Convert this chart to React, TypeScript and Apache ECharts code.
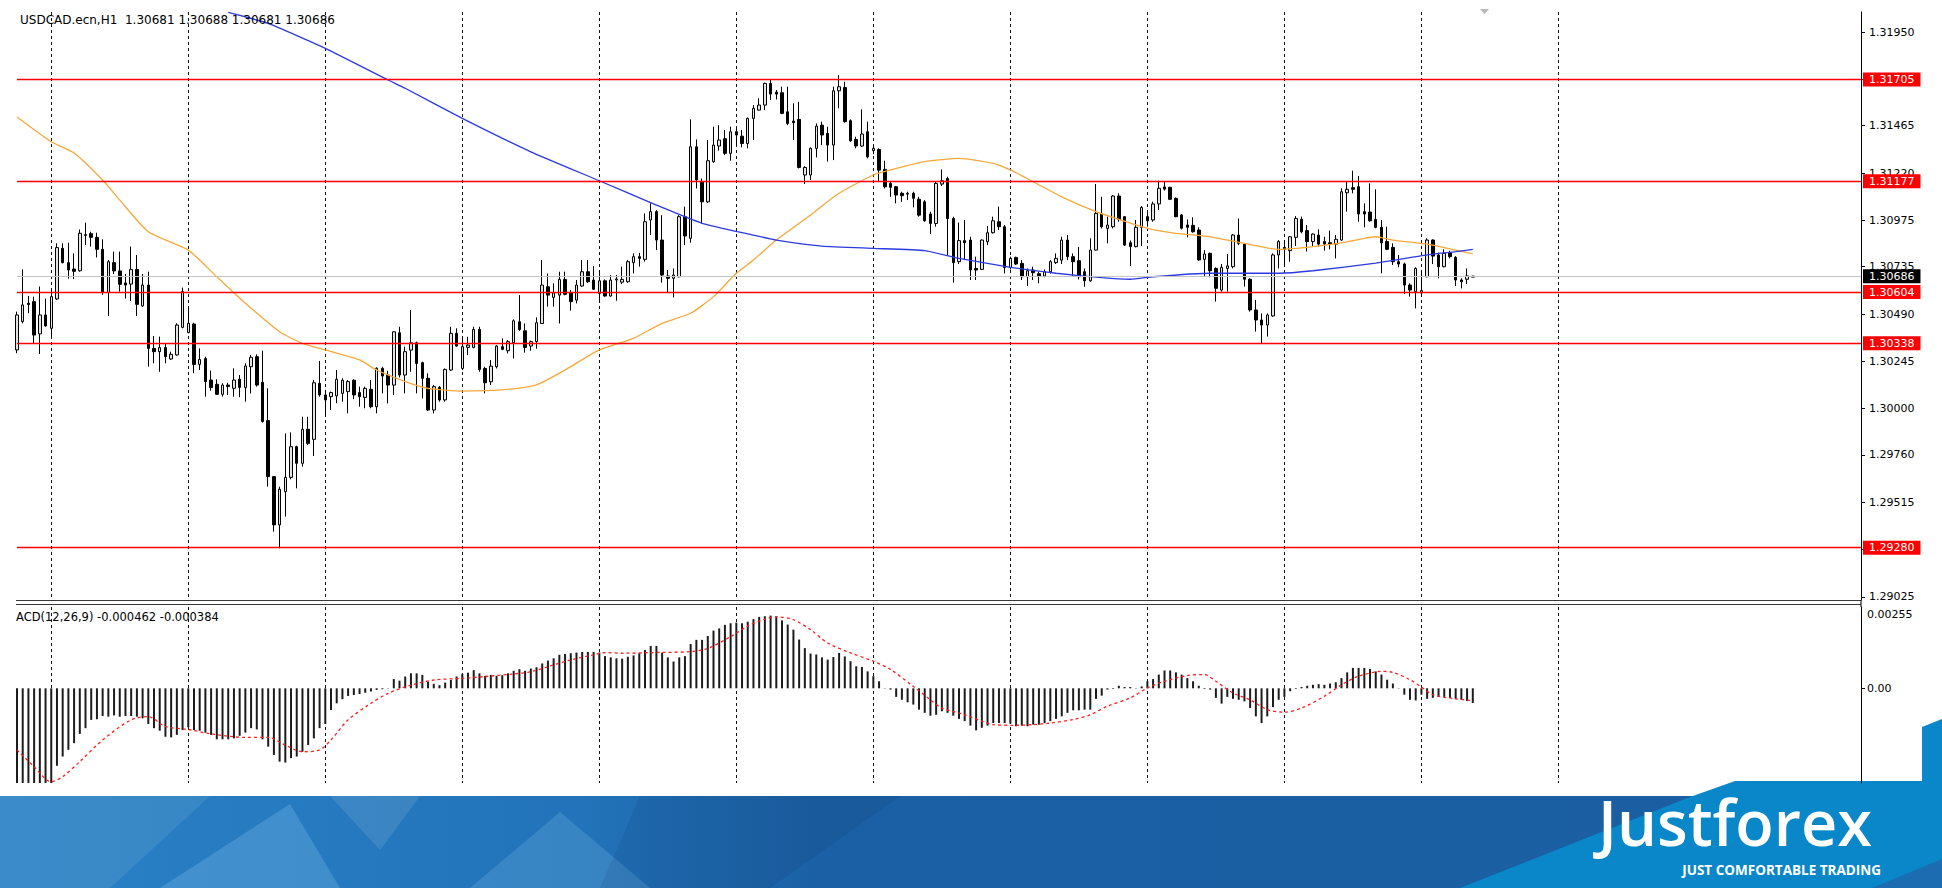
import React, { useEffect, useRef } from "react";
import * as echarts from "echarts";

// ---------- candles (H1 bars, left to right) ----------
const opens = [
  1.30304,1.30451,1.30546,1.30554,1.30387,1.30485,1.30416,1.30568,1.30830,1.30756,
  1.30723,1.30714,1.30901,1.30906,1.30887,1.30825,1.30601,1.30756,1.30713,1.30651,
  1.30645,1.30721,1.30532,1.30640,1.30312,1.30295,1.30316,1.30257,1.30278,1.30421,
  1.30394,1.30438,1.30229,1.30259,1.30148,1.30126,1.30074,1.30122,1.30105,1.30152,
  1.30109,1.30217,1.30269,1.30136,1.29938,1.29648,1.29398,1.29570,1.29644,1.29803,
  1.29717,1.29893,1.29841,1.30131,1.30071,1.30062,1.30066,1.30079,1.30088,1.30147,
  1.30083,1.30058,1.30100,1.30010,1.30208,1.30174,1.30122,1.30393,1.30174,1.30303,
  1.30341,1.30238,1.30157,1.29993,1.30110,1.30045,1.30200,1.30390,1.30208,1.30317,
  1.30317,1.30410,1.30208,1.30139,1.30217,1.30321,1.30300,1.30341,1.30450,1.30403,
  1.30324,1.30347,1.30441,1.30631,1.30576,1.30588,1.30669,1.30600,1.30562,1.30635,
  1.30709,1.30666,1.30597,1.30662,1.30583,1.30666,1.30655,1.30657,1.30756,1.30787,
  1.30773,1.30977,1.31020,1.30873,1.30687,1.30675,1.30683,1.30994,1.30882,1.31356,
  1.31175,1.31071,1.31279,1.31360,1.31398,1.31322,1.31434,1.31411,1.31373,1.31503,
  1.31546,1.31572,1.31684,1.31639,1.31636,1.31537,1.31489,1.31498,1.31210,1.31210,
  1.31348,1.31468,1.31425,1.31365,1.31646,1.31663,1.31491,1.31394,1.31360,1.31434,
  1.31336,1.31342,1.31239,1.31166,1.31149,1.31115,1.31111,1.31115,1.31084,1.31071,
  1.31008,1.30959,1.31163,1.31192,1.30985,1.30761,1.30870,1.30873,1.30726,1.30721,
  1.30864,1.30911,1.30968,1.30942,1.30731,1.30783,1.30752,1.30683,1.30718,1.30699,
  1.30687,1.30709,1.30756,1.30769,1.30873,1.30787,1.30766,1.30709,1.30662,1.30821,
  1.31008,1.30933,1.30942,1.31101,1.30994,1.30859,1.30839,1.30939,1.30994,1.30977,
  1.31060,1.31148,1.31146,1.31089,1.31003,1.30951,1.30949,1.30925,1.30773,1.30804,
  1.30726,1.30614,1.30726,1.30735,1.30899,1.30852,1.30670,1.30511,1.30459,1.30433,
  1.30480,1.30796,1.30835,1.30818,1.30887,1.30980,1.30922,1.30865,1.30899,1.30865,
  1.30859,1.30852,1.30873,1.31118,1.31144,1.31149,1.31020,1.31018,1.30980,1.30939,
  1.30865,1.30835,1.30761,1.30749,1.30640,1.30606,1.30600,1.30683,1.30873,1.30796,
  1.30735,1.30808,1.30783,1.30666,1.30670,1.30681,
];
const highs = [
  1.30502,1.30721,1.30584,1.30580,1.30632,1.30570,1.30615,1.30856,1.30856,1.30859,
  1.30804,1.30928,1.30963,1.30916,1.30911,1.30877,1.30770,1.30813,1.30813,1.30697,
  1.30839,1.30796,1.30697,1.30709,1.30376,1.30373,1.30335,1.30295,1.30442,1.30627,
  1.30532,1.30445,1.30312,1.30269,1.30197,1.30152,1.30131,1.30134,1.30209,1.30174,
  1.30235,1.30278,1.30281,1.30300,1.30105,1.29651,1.29596,1.29872,1.29877,1.29808,
  1.29958,1.29958,1.30148,1.30247,1.30097,1.30088,1.30200,1.30157,1.30148,1.30152,
  1.30114,1.30114,1.30148,1.30214,1.30217,1.30196,1.30398,1.30424,1.30321,1.30511,
  1.30347,1.30243,1.30183,1.30122,1.30117,1.30208,1.30424,1.30416,1.30372,1.30372,
  1.30424,1.30424,1.30217,1.30252,1.30329,1.30364,1.30355,1.30462,1.30588,1.30441,
  1.30352,1.30473,1.30769,1.30700,1.30649,1.30709,1.30709,1.30614,1.30666,1.30769,
  1.30769,1.30738,1.30718,1.30669,1.30692,1.30692,1.30735,1.30769,1.30804,1.30807,
  1.31011,1.31063,1.31028,1.31002,1.30718,1.30726,1.31002,1.31046,1.31498,1.31394,
  1.31192,1.31391,1.31460,1.31468,1.31443,1.31460,1.31451,1.31443,1.31508,1.31572,
  1.31607,1.31688,1.31705,1.31650,1.31667,1.31667,1.31581,1.31589,1.31256,1.31353,
  1.31477,1.31486,1.31460,1.31667,1.31727,1.31693,1.31498,1.31408,1.31550,1.31486,
  1.31360,1.31348,1.31284,1.31175,1.31153,1.31123,1.31123,1.31123,1.31097,1.31080,
  1.31020,1.31175,1.31239,1.31201,1.30994,1.30963,1.30977,1.30890,1.30787,1.30876,
  1.30945,1.30994,1.31046,1.30951,1.30787,1.30787,1.30769,1.30726,1.30735,1.30709,
  1.30721,1.30769,1.30804,1.30890,1.30899,1.30804,1.30838,1.30726,1.30882,1.31163,
  1.31097,1.30994,1.31106,1.31115,1.30997,1.30870,1.30977,1.31049,1.31015,1.31072,
  1.31180,1.31175,1.31149,1.31094,1.31008,1.30980,1.30991,1.30939,1.30821,1.30808,
  1.30732,1.30749,1.30801,1.30904,1.30985,1.30856,1.30675,1.30563,1.30493,1.30493,
  1.30804,1.30873,1.30873,1.30894,1.30997,1.30994,1.30951,1.30908,1.30928,1.30890,
  1.30922,1.30899,1.31141,1.31175,1.31232,1.31205,1.31063,1.31167,1.31136,1.30977,
  1.30942,1.30856,1.30796,1.30756,1.30649,1.30732,1.30714,1.30882,1.30877,1.30808,
  1.30825,1.30818,1.30790,1.30675,1.30726,1.30688,
];
const lows = [
  1.30287,1.30442,1.30494,1.30335,1.30283,1.30425,1.30373,1.30563,1.30752,1.30673,
  1.30671,1.30709,1.30847,1.30839,1.30783,1.30589,1.30480,1.30697,1.30606,1.30570,
  1.30557,1.30480,1.30528,1.30217,1.30235,1.30191,1.30235,1.30252,1.30274,1.30416,
  1.30390,1.30183,1.30200,1.30062,1.30093,1.30071,1.30062,1.30071,1.30062,1.30059,
  1.30036,1.30079,1.30114,1.29928,1.29596,1.29363,1.29277,1.29441,1.29634,1.29587,
  1.29700,1.29812,1.29755,1.30062,1.29958,1.29993,1.30028,1.30036,1.29976,1.30049,
  1.30010,1.30002,1.30002,1.29976,1.30079,1.30027,1.30070,1.30162,1.30079,1.30191,
  1.30079,1.30053,1.29989,1.29975,1.30036,1.30036,1.30196,1.30321,1.30200,1.30277,
  1.30312,1.30191,1.30079,1.30122,1.30208,1.30303,1.30286,1.30260,1.30403,1.30290,
  1.30300,1.30310,1.30438,1.30528,1.30528,1.30441,1.30587,1.30507,1.30545,1.30631,
  1.30652,1.30614,1.30554,1.30580,1.30580,1.30559,1.30645,1.30652,1.30700,1.30735,
  1.30761,1.30899,1.30821,1.30652,1.30600,1.30576,1.30680,1.30847,1.30859,1.31140,
  1.30959,1.31066,1.31273,1.31336,1.31313,1.31284,1.31365,1.31353,1.31348,1.31391,
  1.31543,1.31546,1.31598,1.31601,1.31525,1.31468,1.31391,1.31244,1.31163,1.31184,
  1.31301,1.31365,1.31279,1.31287,1.31555,1.31481,1.31382,1.31348,1.31356,1.31296,
  1.31318,1.31175,1.31140,1.31097,1.31063,1.31071,1.31080,1.31042,1.30994,1.30968,
  1.30904,1.30942,1.31153,1.30795,1.30652,1.30749,1.30769,1.30666,1.30666,1.30718,
  1.30847,1.30907,1.30925,1.30700,1.30721,1.30744,1.30666,1.30635,1.30666,1.30649,
  1.30680,1.30700,1.30749,1.30749,1.30769,1.30683,1.30669,1.30631,1.30657,1.30818,
  1.30933,1.30856,1.30933,1.30968,1.30842,1.30739,1.30835,1.30842,1.30942,1.30968,
  1.31029,1.31129,1.31080,1.30991,1.30928,1.30887,1.30911,1.30766,1.30683,1.30680,
  1.30554,1.30606,1.30606,1.30726,1.30847,1.30632,1.30502,1.30399,1.30338,1.30373,
  1.30476,1.30726,1.30735,1.30761,1.30842,1.30908,1.30813,1.30839,1.30839,1.30818,
  1.30825,1.30778,1.30870,1.31020,1.31115,1.30968,1.30939,1.30968,1.30934,1.30701,
  1.30821,1.30744,1.30732,1.30594,1.30580,1.30519,1.30594,1.30680,1.30749,1.30675,
  1.30732,1.30778,1.30635,1.30623,1.30645,1.30681,
];
const closes = [
  1.30485,1.30537,1.30539,1.30381,1.30485,1.30428,1.30580,1.30834,1.30756,1.30718,
  1.30711,1.30908,1.30897,1.30887,1.30825,1.30601,1.30761,1.30713,1.30644,1.30640,
  1.30721,1.30540,1.30640,1.30312,1.30295,1.30316,1.30269,1.30281,1.30433,1.30606,
  1.30442,1.30229,1.30255,1.30140,1.30109,1.30074,1.30122,1.30114,1.30148,1.30110,
  1.30221,1.30266,1.30122,1.29933,1.29648,1.29398,1.29582,1.29644,1.29803,1.29717,
  1.29893,1.29820,1.30134,1.30071,1.30045,1.30083,1.30152,1.30147,1.30140,1.30071,
  1.30062,1.30105,1.30010,1.30209,1.30169,1.30122,1.30398,1.30174,1.30295,1.30341,
  1.30234,1.30157,1.29993,1.30114,1.30045,1.30203,1.30390,1.30324,1.30321,1.30329,
  1.30410,1.30203,1.30134,1.30220,1.30324,1.30307,1.30347,1.30455,1.30410,1.30317,
  1.30347,1.30445,1.30640,1.30588,1.30600,1.30669,1.30592,1.30554,1.30640,1.30709,
  1.30657,1.30618,1.30662,1.30583,1.30666,1.30671,1.30669,1.30761,1.30787,1.30778,
  1.30968,1.31020,1.30873,1.30692,1.30675,1.30692,1.30994,1.30894,1.31356,1.31184,
  1.31071,1.31284,1.31365,1.31391,1.31322,1.31434,1.31417,1.31373,1.31503,1.31555,
  1.31572,1.31684,1.31629,1.31629,1.31529,1.31477,1.31481,1.31249,1.31249,1.31348,
  1.31463,1.31417,1.31365,1.31646,1.31667,1.31486,1.31387,1.31360,1.31422,1.31304,
  1.31348,1.31235,1.31149,1.31146,1.31106,1.31103,1.31115,1.31089,1.31002,1.30973,
  1.30959,1.31166,1.31180,1.30985,1.30756,1.30870,1.30859,1.30718,1.30718,1.30873,
  1.30911,1.30973,1.30942,1.30731,1.30778,1.30749,1.30683,1.30714,1.30704,1.30687,
  1.30709,1.30761,1.30778,1.30873,1.30787,1.30761,1.30683,1.30662,1.30821,1.31011,
  1.30942,1.30951,1.31101,1.30980,1.30847,1.30839,1.30939,1.31042,1.30973,1.31060,
  1.31141,1.31137,1.31084,1.30994,1.30934,1.30939,1.30916,1.30770,1.30801,1.30714,
  1.30623,1.30732,1.30739,1.30899,1.30856,1.30670,1.30511,1.30459,1.30433,1.30485,
  1.30796,1.30865,1.30825,1.30890,1.30985,1.30916,1.30865,1.30904,1.30852,1.30852,
  1.30852,1.30877,1.31123,1.31136,1.31136,1.31008,1.31008,1.30973,1.30939,1.30859,
  1.30825,1.30761,1.30749,1.30640,1.30614,1.30726,1.30611,1.30873,1.30790,1.30735,
  1.30804,1.30787,1.30666,1.30657,1.30687,1.30686,
];

// ---------- moving averages (bar index, value) ----------
const maFastIdx = [0,6,10,15,18,23,30,35,40,46,50,54,60,63,68,72,78,85,91,96,102,108,113,118,122,126,129,133,139,144,150,154,159,165,171,174,178,183,189,193,198,203,209,215,221,227,233,238,241,247,252,255];
const maFastVal = [1.31510,1.31382,1.31324,1.31184,1.31080,1.30916,1.30821,1.30683,1.30546,1.30398,1.30338,1.30304,1.30252,1.30200,1.30140,1.30105,1.30091,1.30097,1.30123,1.30200,1.30304,1.30364,1.30442,1.30494,1.30580,1.30701,1.30770,1.30873,1.31003,1.31115,1.31210,1.31244,1.31279,1.31296,1.31270,1.31236,1.31175,1.31097,1.31020,1.30980,1.30934,1.30908,1.30890,1.30856,1.30825,1.30839,1.30864,1.30890,1.30873,1.30852,1.30821,1.30801];
const maSlowIdx = [37,44,54,65,68,78,90,102,112,120,129,133,141,150,159,165,174,182,190,195,199,209,221,227,238,247,252,255];
const maSlowVal = [1.32052,1.31995,1.31866,1.31702,1.31659,1.31503,1.31330,1.31180,1.31054,1.30960,1.30899,1.30873,1.30842,1.30830,1.30818,1.30778,1.30732,1.30701,1.30678,1.30670,1.30683,1.30701,1.30701,1.30714,1.30753,1.30796,1.30813,1.30825];

// ---------- MACD(12,26,9) ----------
const macdHist = [
  -0.0033,-0.0034,-0.0034,-0.0033,-0.0032,-0.0031,-0.0030,-0.00243,-0.00214,-0.00193,
  -0.00172,-0.00143,-0.00125,-0.00099,-0.00097,-0.00087,-0.00089,-0.00085,-0.00089,-0.00087,
  -0.00087,-0.00089,-0.00094,-0.00112,-0.00125,-0.00133,-0.00152,-0.00154,-0.00146,-0.00131,
  -0.00122,-0.00131,-0.00133,-0.00139,-0.00146,-0.00160,-0.00160,-0.00160,-0.00157,-0.00149,
  -0.00139,-0.00125,-0.00129,-0.00160,-0.00183,-0.00209,-0.00230,-0.00233,-0.00219,-0.00214,
  -0.00199,-0.00178,-0.00157,-0.00125,-0.00112,-0.00068,-0.00047,-0.00034,-0.00024,-0.00021,
  -0.00018,-0.00014,-0.00010,-0.00005,-0.00003,-0.00001,0.00029,0.00024,0.00037,0.00047,
  0.00047,0.00042,0.00021,0.00014,0.00010,0.00018,0.00026,0.00037,0.00045,0.00049,
  0.00057,0.00047,0.00039,0.00042,0.00039,0.00041,0.00047,0.00055,0.00060,0.00055,
  0.00062,0.00066,0.00078,0.00087,0.00094,0.00105,0.00108,0.00110,0.00112,0.00114,
  0.00114,0.00114,0.00112,0.00101,0.00097,0.00094,0.00093,0.00099,0.00103,0.00110,
  0.00120,0.00133,0.00133,0.00112,0.00097,0.00084,0.00097,0.00101,0.00139,0.00152,
  0.00152,0.00164,0.00181,0.00188,0.00199,0.00204,0.00206,0.00204,0.00209,0.00217,
  0.00224,0.00226,0.00228,0.00226,0.00213,0.00200,0.00184,0.00153,0.00126,0.00109,
  0.00106,0.00097,0.00090,0.00098,0.00111,0.00100,0.00085,0.00069,0.00067,0.00053,
  0.00038,0.00022,0.00001,-0.00004,-0.00027,-0.00036,-0.00044,-0.00051,-0.00067,-0.00077,
  -0.00086,-0.00083,-0.00072,-0.00077,-0.00086,-0.00096,-0.00103,-0.00117,-0.00132,-0.00124,
  -0.00117,-0.00109,-0.00109,-0.00109,-0.00111,-0.00119,-0.00117,-0.00119,-0.00114,-0.00114,
  -0.00109,-0.00103,-0.00096,-0.00088,-0.00077,-0.00069,-0.00069,-0.00067,-0.00067,-0.00033,
  -0.00023,-0.00004,-0.00002,0.00008,0.00004,0.00004,-0.00001,0.00006,0.00022,0.00029,
  0.00043,0.00056,0.00056,0.00050,0.00043,0.00032,0.00022,0.00008,-0.00002,-0.00004,
  -0.00030,-0.00048,-0.00027,-0.00033,-0.00036,-0.00041,-0.00062,-0.00088,-0.00109,-0.00088,
  -0.00059,-0.00036,-0.00027,-0.00009,-0.00002,0.00004,0.00008,0.00011,0.00013,0.00011,
  0.00015,0.00019,0.00032,0.00050,0.00064,0.00064,0.00064,0.00061,0.00053,0.00043,
  0.00027,0.00015,0.00001,-0.00020,-0.00036,-0.00038,-0.00020,-0.00033,-0.00030,-0.00027,
  -0.00027,-0.00030,-0.00033,-0.00036,-0.00040,-0.000462,
];
const signalIdx = [0,3,6,8,11,15,20,23,26,30,34,40,44,47,50,53,55,58,62,65,69,73,78,82,87,90,93,97,101,103,106,111,118,121,125,128,131,133,136,139,142,146,150,153,157,160,162,166,169,171,175,178,181,185,188,191,195,198,201,205,208,210,213,216,219,222,225,229,232,235,239,241,244,246,248,252,255];
const signalVal = [-0.00193,-0.00246,-0.00293,-0.00277,-0.00230,-0.00162,-0.00099,-0.00089,-0.00120,-0.00129,-0.00143,-0.00154,-0.00154,-0.00178,-0.00199,-0.00193,-0.00162,-0.00099,-0.00047,-0.00016,0.00010,0.00026,0.00031,0.00037,0.00045,0.00052,0.00068,0.00089,0.00105,0.00112,0.00110,0.00112,0.00115,0.00125,0.00162,0.00195,0.00217,0.00224,0.00215,0.00184,0.00142,0.00111,0.00085,0.00059,0.00006,-0.00036,-0.00062,-0.00083,-0.00103,-0.00114,-0.00116,-0.00114,-0.00109,-0.00098,-0.00083,-0.00056,-0.00030,0.00001,0.00022,0.00040,0.00043,0.00022,-0.00015,-0.00036,-0.00067,-0.00075,-0.00062,-0.00025,0.00011,0.00038,0.00053,0.00050,0.00027,0.00004,-0.00020,-0.00033,-0.000384];

// ---------- axis ticks, levels, texts ----------
const priceTicks = [1.3195,1.31705,1.31465,1.3122,1.30975,1.30735,1.3049,1.30245,1.3,1.2976,1.29515,1.2927,1.29025];
const levels = [1.31705,1.31177,1.30604,1.30338,1.2928];
const currentPrice = 1.30686;
const macdTicks = [0.00255, 0];
const headerText = "USDCAD.ecn,H1  1.30681 1.30688 1.30681 1.30686";
const macdText = "ACD(12,26,9) -0.000462 -0.000384";
const brandText = "Justforex";
const taglineText = "JUST COMFORTABLE TRADING";

const SLOTS = 324;
const SEP_START = 6;
const SEP_STEP = 24;
const SEP_END = 270;

const FONT = '"DejaVu Sans", Verdana, sans-serif';

function buildOption() {
  const cats = Array.from({ length: SLOTS }, (_, i) => String(i));
  const isSep = (i: number) => i >= SEP_START && i <= SEP_END && (i - SEP_START) % SEP_STEP === 0;
  const xAxisFor = (gridIndex: number) => ({
    type: "category",
    gridIndex,
    data: cats,
    boundaryGap: false,
    axisLine: { show: false },
    axisTick: { show: false },
    axisLabel: { show: false },
    splitLine: {
      show: true,
      interval: (i: number) => isSep(i),
      lineStyle: { color: "#111", width: 1, type: [3, 3] },
    },
  });

  const levelLabel = (v: number, bg: string) => ({
    show: true,
    position: "end",
    distance: 2,
    formatter: v.toFixed(5),
    color: "#fff",
    backgroundColor: bg,
    padding: [2, 6, 1, 6],
    fontSize: 11,
    fontFamily: FONT,
  });

  const candleData = opens.map((o, i) => [o, closes[i], lows[i], highs[i]]);

  return {
    animation: false,
    backgroundColor: "#ffffff",
    grid: [
      { left: 17, right: 81, top: 12, height: 588, outerBoundsMode: "none", containLabel: false },
      { left: 17, right: 81, top: 607, height: 176, outerBoundsMode: "none", containLabel: false },
    ],
    xAxis: [xAxisFor(0), xAxisFor(1)],
    yAxis: [
      {
        type: "value",
        gridIndex: 0,
        position: "right",
        min: 1.29009,
        max: 1.32054,
        axisLine: { show: true, onZero: false, lineStyle: { color: "#000", width: 1 } },
        axisTick: { show: true, length: 4, customValues: priceTicks, lineStyle: { color: "#000" } },
        axisLabel: {
          show: true,
          customValues: priceTicks,
          formatter: (v: number) => v.toFixed(5),
          color: "#000",
          fontFamily: FONT,
          fontSize: 11,
          margin: 8,
        },
        splitLine: { show: false },
      },
      {
        type: "value",
        gridIndex: 1,
        position: "right",
        min: -0.00297,
        max: 0.00255,
        axisLine: { show: true, onZero: false, lineStyle: { color: "#000", width: 1 } },
        axisTick: { show: true, length: 4, customValues: [0], lineStyle: { color: "#000" } },
        axisLabel: {
          show: true,
          customValues: macdTicks,
          formatter: (v: number) => (v > 0.001 ? "{top|" + v.toFixed(5) + "}" : "{mid|" + v.toFixed(2) + "}"),
          rich: {
            top: { padding: [14, 0, 0, 0], fontSize: 11, fontFamily: FONT, color: "#000" },
            mid: { fontSize: 11, fontFamily: FONT, color: "#000" },
          },
          margin: 6,
        },
        splitLine: { show: false },
      },
    ],
    series: [
      {
        type: "candlestick",
        xAxisIndex: 0,
        yAxisIndex: 0,
        data: candleData,
        barWidth: 3,
        silent: true,
        z: 2,
        itemStyle: {
          color: "#e4e4e4",
          color0: "#000000",
          borderColor: "#000000",
          borderColor0: "#000000",
          borderWidth: 1,
        },
      },
      {
        // fast moving average; also carries the horizontal price levels
        type: "line",
        xAxisIndex: 0,
        yAxisIndex: 0,
        data: maFastIdx.map((x, k) => [x, maFastVal[k]]),
        symbol: "none",
        showSymbol: false,
        smooth: 0.2,
        silent: true,
        z: 3,
        lineStyle: { color: "#f6a83a", width: 1.3 },
        markLine: {
          silent: true,
          symbol: ["none", "none"],
          animation: false,
          precision: 5,
          data: [
            {
              yAxis: currentPrice,
              lineStyle: { color: "#c4c4c4", width: 1, type: "solid" },
              label: levelLabel(currentPrice, "#000000"),
            },
            ...levels.map((v) => ({
              yAxis: v,
              lineStyle: { color: "#ff0000", width: 1.4, type: "solid" },
              label: levelLabel(v, "#ff0000"),
            })),
          ],
        },
      },
      {
        type: "line",
        xAxisIndex: 0,
        yAxisIndex: 0,
        data: maSlowIdx.map((x, k) => [x, maSlowVal[k]]),
        symbol: "none",
        showSymbol: false,
        smooth: 0.15,
        silent: true,
        z: 3,
        lineStyle: { color: "#2c3ae0", width: 1.3 },
      },
      {
        type: "bar",
        xAxisIndex: 1,
        yAxisIndex: 1,
        data: macdHist,
        barWidth: 2,
        silent: true,
        itemStyle: { color: "#1c1c1c" },
      },
      {
        type: "line",
        xAxisIndex: 1,
        yAxisIndex: 1,
        data: signalIdx.map((x, k) => [x, signalVal[k]]),
        symbol: "none",
        showSymbol: false,
        smooth: 0.3,
        silent: true,
        z: 3,
        lineStyle: { color: "#ff1e1e", width: 1.3, type: [3, 3] },
      },
    ],
    graphic: [
      // panel separator
      { type: "line", silent: true, shape: { x1: 16, y1: 600.5, x2: 1861, y2: 600.5 }, style: { stroke: "#3a3a3a", lineWidth: 1 } },
      { type: "line", silent: true, shape: { x1: 16, y1: 604.5, x2: 1861, y2: 604.5 }, style: { stroke: "#3a3a3a", lineWidth: 1 } },
      { type: "line", silent: true, shape: { x1: 1861, y1: 600, x2: 1861, y2: 607 }, style: { stroke: "#000", lineWidth: 1 } },
      // chart shift marker
      { type: "polygon", silent: true, shape: { points: [[1480, 9], [1489, 9], [1484.5, 14]] }, style: { fill: "#b8b8b8" } },
      // header texts
      {
        type: "text", silent: true, x: 20, y: 20, z: 10,
        style: { text: headerText, fill: "#000", font: "12px " + FONT, verticalAlign: "middle", textVerticalAlign: "middle" },
      },
      {
        type: "text", silent: true, x: 16, y: 617, z: 10,
        style: { text: macdText, fill: "#000", font: "11.5px " + FONT, verticalAlign: "middle", textVerticalAlign: "middle" },
      },
      // footer banner
      {
        type: "group",
        z: 100,
        silent: true,
        children: [
          {
            type: "rect", shape: { x: 0, y: 796, width: 1942, height: 92 },
            style: {
              fill: new echarts.graphic.LinearGradient(0, 0, 1, 0, [
                { offset: 0, color: "#2b82c6" },
                { offset: 0.3, color: "#2273b9" },
                { offset: 0.42, color: "#1b60a4" },
                { offset: 1, color: "#1b5fa2" },
              ]),
            },
          },
          { type: "polygon", shape: { points: [[0, 796], [210, 796], [110, 888], [0, 888]] }, style: { fill: "rgba(255,255,255,0.08)" } },
          { type: "polygon", shape: { points: [[160, 888], [290, 804], [340, 888]] }, style: { fill: "rgba(160,215,250,0.22)" } },
          { type: "polygon", shape: { points: [[330, 796], [420, 796], [380, 850]] }, style: { fill: "rgba(255,255,255,0.10)" } },
          { type: "polygon", shape: { points: [[470, 888], [560, 812], [650, 888]] }, style: { fill: "rgba(160,215,250,0.18)" } },
          { type: "polygon", shape: { points: [[640, 796], [900, 796], [770, 888], [600, 888]] }, style: { fill: "rgba(10,40,90,0.10)" } },
          {
            type: "polygon",
            shape: { points: [[1460, 888], [1690, 797], [1735, 781], [1942, 781], [1942, 888]] },
            style: { fill: "#0a87c9" },
          },
          { type: "polygon", shape: { points: [[1922, 727], [1942, 719], [1942, 782], [1922, 782]] }, style: { fill: "#0a87c9" } },
          { type: "polygon", shape: { points: [[1872, 888], [1942, 859], [1942, 888]] }, style: { fill: "#1b6cb0" } },
          {
            type: "text", x: 1872, y: 821,
            style: {
              text: brandText, fill: "#ffffff", font: '600 63px "Open Sans", sans-serif',
              align: "right", textAlign: "right", verticalAlign: "middle", textVerticalAlign: "middle",
            },
          },
          {
            type: "text", x: 1881, y: 870,
            style: {
              text: taglineText, fill: "#ffffff", font: 'bold 13.5px "Open Sans", sans-serif',
              align: "right", textAlign: "right", verticalAlign: "middle", textVerticalAlign: "middle",
            },
          },
        ],
      },
    ],
  };
}

export default function App() {
  const ref = useRef<HTMLDivElement>(null);
  useEffect(() => {
    document.body.style.margin = "0";
    const el = ref.current;
    if (!el) return;
    const chart = echarts.init(el, undefined, { renderer: "svg", width: 1942, height: 888 });
    chart.setOption(buildOption() as any);
    return () => chart.dispose();
  }, []);
  return (
    <div
      ref={ref}
      style={{ position: "fixed", left: 0, top: 0, width: 1942, height: 888, background: "#ffffff" }}
    />
  );
}
